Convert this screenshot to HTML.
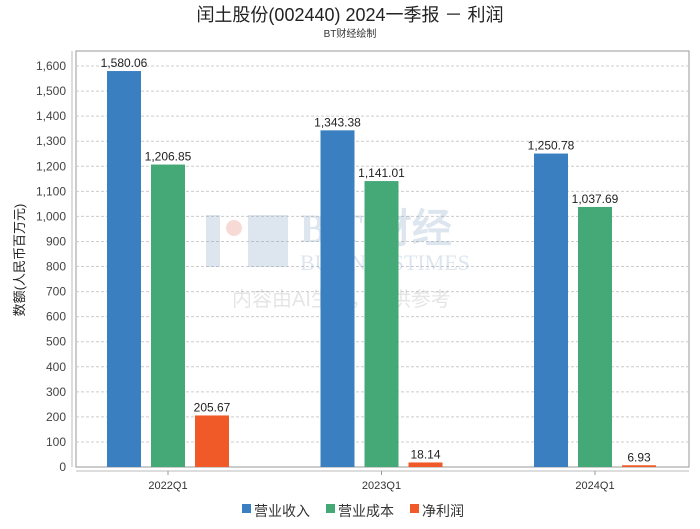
<!DOCTYPE html>
<html><head><meta charset="utf-8"><style>
body{margin:0;background:#fff;font-family:"Liberation Sans","Noto Sans CJK SC",sans-serif;}
</style></head><body>
<svg id="chart" width="700" height="524" xmlns="http://www.w3.org/2000/svg" style="font-family:'Liberation Sans','Noto Sans CJK SC',sans-serif">
<rect width="700" height="524" fill="#fff"/>
<text x="350" y="21" text-anchor="middle" font-size="18" fill="#222">闰土股份(002440) 2024一季报 － 利润</text>
<text x="350" y="37" text-anchor="middle" font-size="10" fill="#333">BT财经绘制</text>
<rect x="76" y="51" width="613" height="416" fill="none" stroke="#999"/>
<line x1="72" y1="51" x2="72" y2="467" stroke="#bbb"/>
<line x1="76" y1="471" x2="689" y2="471" stroke="#bbb"/>
<g id="grid"></g><g id="ticks"></g>
<g opacity="0.25">
<text x="300" y="242" font-size="40" font-family="'Liberation Serif',serif" fill="#7a9cc0" font-weight="bold">B T 财经</text>
<text x="300" y="270" font-size="22" font-family="'Liberation Serif',serif" fill="#7a9cc0">BUSINESSTIMES</text>
<text x="232" y="306" font-size="20" fill="#999">内容由AI生成，仅供参考</text>
<rect x="206" y="215" width="14" height="52" fill="#7a9cc0"/><circle cx="234" cy="228" r="8" fill="#e07060"/><rect x="248" y="215" width="40" height="52" fill="#7a9cc0"/>
</g>
<g id="bars"></g>
<text transform="translate(24,260) rotate(-90)" text-anchor="middle" font-size="13" fill="#222">数额(人民币百万元)</text>
<g font-size="14" fill="#333">
<rect x="242" y="504" width="9" height="9" fill="#3a80c0"/><text x="254" y="516">营业收入</text>
<rect x="326" y="504" width="9" height="9" fill="#44a877"/><text x="338" y="516">营业成本</text>
<rect x="410" y="504" width="9" height="9" fill="#f05a28"/><text x="422" y="516">净利润</text>
</g>
</svg>
<script>
const categories=["2022Q1","2023Q1","2024Q1"];
const revenue=[1580.06,1343.38,1250.78];
const cost=[1206.85,1141.01,1037.69];
const profit=[205.67,18.14,6.93];
const yTicks=[0,100,200,300,400,500,600,700,800,900,1000,1100,1200,1300,1400,1500,1600];
const NS="http://www.w3.org/2000/svg";
const y=v=>467-v*0.2506;
const xc=i=>168+i*213.5;
function el(t,a,p){const e=document.createElementNS(NS,t);for(const k in a)e.setAttribute(k,a[k]);document.getElementById(p).appendChild(e);return e;}
yTicks.forEach(v=>{
  if(v>0){const g=el('line',{x1:76,x2:689,y1:y(v),y2:y(v),stroke:'#ccc','stroke-dasharray':'3,2'},'grid');
  
  }
  const t=el('text',{x:66,y:y(v)+4,'text-anchor':'end','font-size':12,fill:'#444'},'ticks');
  t.textContent=v.toLocaleString('en-US');
  
  
});
categories.forEach((c,i)=>{
  el('line',{x1:xc(i),x2:xc(i),y1:471,y2:475,stroke:'#999'},'ticks');
  const t=el('text',{x:xc(i),y:489,'text-anchor':'middle','font-size':11,fill:'#333'},'ticks');
  t.textContent=c;
  
  
});
const series=[[revenue,'#3a80c0','revenue'],[cost,'#44a877','cost'],[profit,'#f05a28','profit']];
series.forEach(([arr,col,nm],s)=>{
  arr.forEach((v,i)=>{
    const x0=xc(i)-61+s*44;
    const r=el('rect',{x:x0,y:y(v),width:34,height:467-y(v),fill:col},'bars');
    
    
    const t=el('text',{x:x0+17,y:y(v)-4,'text-anchor':'middle','font-size':12,fill:'#222'},'bars');
    t.textContent=v.toLocaleString('en-US',{minimumFractionDigits:2});
    
    
  });
});
</script>
</body></html>
